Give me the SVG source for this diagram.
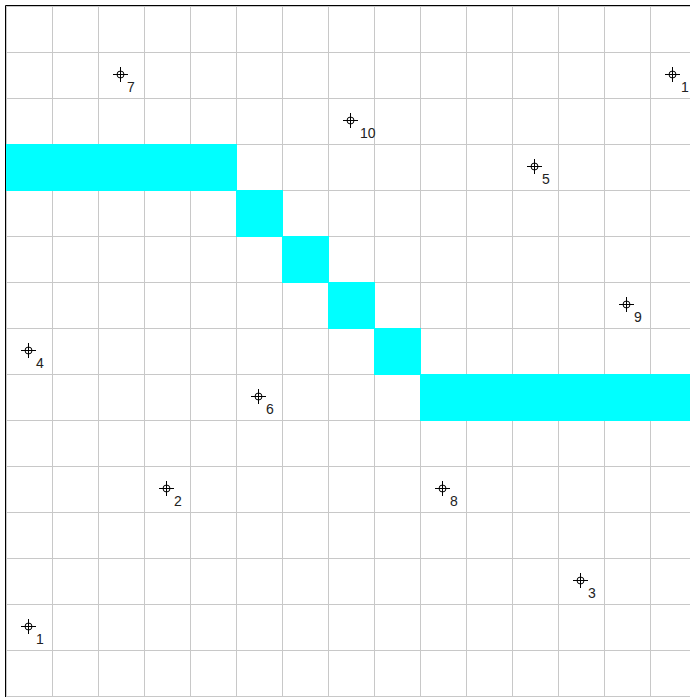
<svg xmlns="http://www.w3.org/2000/svg" width="690" height="697" viewBox="0 0 690 697">
<style>
.g{stroke:#c8c8c8;stroke-width:1;fill:none}
.c{fill:#00ffff}
.m{stroke:#000;stroke-width:1;fill:none}
.t{font-family:"Liberation Sans",Arial,sans-serif;font-size:14px;fill:#222}
</style>
<defs>
<g id="mk" class="m"><circle cx="0.5" cy="0.5" r="3.5"/><path d="M-7 0.5H8M0.5 -7V8"/></g>
</defs>
<rect width="690" height="697" fill="#fff"/>
<g id="grid" class="g">
<path d="M6.5 6V697M52.5 6V697M98.5 6V697M144.5 6V697M190.5 6V697M236.5 6V697M282.5 6V697M328.5 6V697M374.5 6V697M420.5 6V697M466.5 6V697M512.5 6V697M558.5 6V697M604.5 6V697M650.5 6V697"/>
<path d="M6 6.5H690M6 52.5H690M6 98.5H690M6 144.5H690M6 190.5H690M6 236.5H690M6 282.5H690M6 328.5H690M6 374.5H690M6 420.5H690M6 466.5H690M6 512.5H690M6 558.5H690M6 604.5H690M6 650.5H690M6 696.5H690"/>
</g>
<g id="band">
<rect class="c" x="6" y="144" width="231" height="47"/>
<rect class="c" x="236" y="190" width="47" height="47"/>
<rect class="c" x="282" y="236" width="47" height="47"/>
<rect class="c" x="328" y="282" width="47" height="47"/>
<rect class="c" x="374" y="328" width="47" height="47"/>
<rect class="c" x="420" y="374" width="270" height="47"/>
</g>
<path d="M5.5 697V5.5H690" stroke="#000" stroke-width="1" fill="none"/>
<g id="p7"><use href="#mk" x="120" y="74"/><text class="t" x="127" y="92">7</text></g>
<g id="p10"><use href="#mk" x="350" y="120"/><text class="t" x="360" y="138">10</text></g>
<g id="p1a"><use href="#mk" x="672" y="74"/><text class="t" x="681" y="92">1</text></g>
<g id="p5"><use href="#mk" x="534" y="166"/><text class="t" x="542" y="184">5</text></g>
<g id="p9"><use href="#mk" x="626" y="304"/><text class="t" x="634" y="322">9</text></g>
<g id="p4"><use href="#mk" x="28" y="350"/><text class="t" x="36" y="368">4</text></g>
<g id="p6"><use href="#mk" x="258" y="396"/><text class="t" x="266" y="414">6</text></g>
<g id="p2"><use href="#mk" x="166" y="488"/><text class="t" x="174" y="506">2</text></g>
<g id="p8"><use href="#mk" x="442" y="488"/><text class="t" x="450" y="506">8</text></g>
<g id="p3"><use href="#mk" x="580" y="580"/><text class="t" x="588" y="598">3</text></g>
<g id="p1"><use href="#mk" x="28" y="626"/><text class="t" x="36" y="644">1</text></g>
</svg>
